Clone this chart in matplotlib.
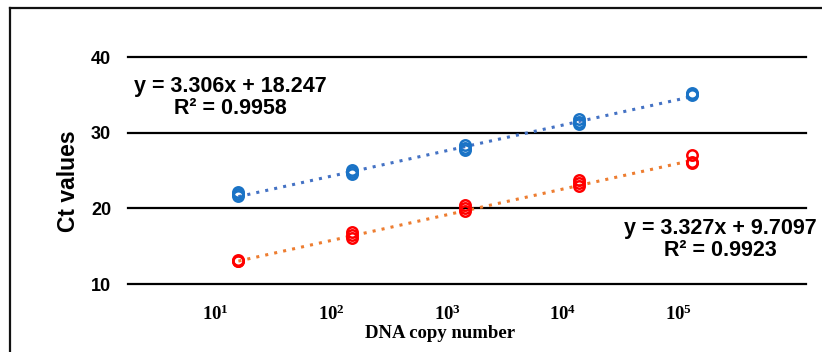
import matplotlib
matplotlib.use('Agg')
import matplotlib.pyplot as plt
from matplotlib.lines import Line2D
import numpy as np

# log copy number index (1..5) and three replicate Ct readings per dilution
x_pos = [1, 2, 3, 4, 5]
blue_ct = [[21.7, 22.1, 21.9],
           [24.5, 25.1, 24.8],
           [27.7, 28.4, 28.0],
           [31.2, 31.8, 31.4],
           [35.2, 35.1, 35.0]]
red_ct = [[13.2, 13.1, 13.0],
          [16.1, 16.9, 16.5],
          [19.6, 20.5, 20.0],
          [23.0, 23.8, 23.3],
          [26.0, 27.0, 26.1]]

# trendline coefficients as printed on the chart
blue_fit = (3.306, 18.247, 0.9958)
red_fit = (3.327, 9.7097, 0.9923)

tick_labels = [r'$\mathbf{10^{1}}$', r'$\mathbf{10^{2}}$', r'$\mathbf{10^{3}}$',
               r'$\mathbf{10^{4}}$', r'$\mathbf{10^{5}}$']
y_ticks = [10, 20, 30, 40]

plt.rcParams['font.family'] = ['Liberation Sans', 'DejaVu Sans']
plt.rcParams['mathtext.fontset'] = 'custom'
plt.rcParams['mathtext.rm'] = 'Liberation Serif'
plt.rcParams['mathtext.bf'] = 'Liberation Serif:bold'

fig = plt.figure(figsize=(8.22, 3.52), dpi=100)
ax = fig.add_axes([0.152, 0.193, 0.828, 0.645])

# outer frame (top and left edges visible in the crop)
fig.add_artist(Line2D([0.012, 1.0], [0.977, 0.977], color='#111111', lw=1.6,
                      transform=fig.transFigure))
fig.add_artist(Line2D([0.012, 0.012], [0.0, 0.977], color='#111111', lw=1.6,
                      transform=fig.transFigure))

for yv in y_ticks:
    ax.axhline(yv, xmin=0.005, xmax=1.0, color='black', lw=1.6, zorder=1,
               clip_on=False)

xs = np.array(x_pos, dtype=float)
ax.plot(xs, blue_fit[0] * xs + blue_fit[1], linestyle=(0, (1, 2)), color='#4472C4',
        lw=2.2, zorder=2)
ax.plot(xs, red_fit[0] * xs + red_fit[1], linestyle=(0, (1, 2)), color='#ED7D31',
        lw=2.2, zorder=2)

for xv, reps in zip(x_pos, blue_ct):
    ax.plot([xv] * len(reps), reps, 'o', mfc='none', mec='#1A73C6', mew=1.8,
            ms=7.5, zorder=3)
for xv, reps in zip(x_pos, red_ct):
    ax.plot([xv] * len(reps), reps, 'o', mfc='none', mec='#FF0000', mew=1.8,
            ms=7.5, zorder=3)

ax.set_xlim(0, 6)
ax.set_ylim(10, 40)
ax.set_yticks(y_ticks)
ax.set_yticklabels([str(v) for v in y_ticks], fontsize=13, fontweight='bold')
ax.set_xticks([p - 0.2 + 0.02 * i for i, p in enumerate(x_pos)])
ax.set_xticklabels(tick_labels, fontsize=13.5)
ax.tick_params(axis='both', length=0)
ax.tick_params(axis='x', pad=15)
ax.tick_params(axis='y', pad=10)
for s in ax.spines.values():
    s.set_visible(False)

ax.set_ylabel('Ct values', fontsize=16.5, fontweight='bold')
ax.yaxis.set_label_coords(-0.066, 0.454)
ax.set_xlabel('DNA copy number', fontsize=13.5, fontweight='bold',
              family='Liberation Serif')
ax.xaxis.set_label_coords(0.4626, -0.216)
ax.xaxis.label.set_va('center')

ax.text(0.93, 34.6, 'y = %.3fx + %.3f\nR\u00b2 = %.4f' % blue_fit, ha='center',
        va='center', fontsize=15.5, fontweight='bold', linespacing=1.05)
ax.text(5.25, 15.9, 'y = %.3fx + %.4f\nR\u00b2 = %.4f' % red_fit, ha='center',
        va='center', fontsize=15.5, fontweight='bold', linespacing=1.05)

fig.savefig('out.png', dpi=100)
